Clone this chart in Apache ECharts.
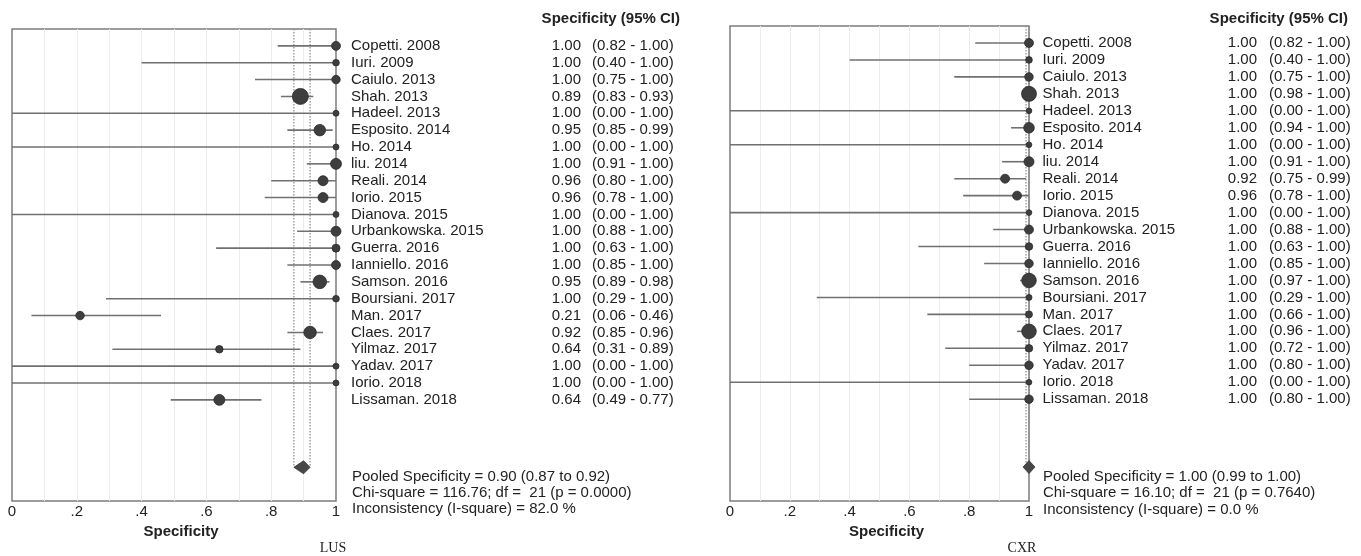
<!DOCTYPE html>
<html><head><meta charset="utf-8">
<script src="https://cdn.jsdelivr.net/npm/echarts@6/dist/echarts.min.js"></script>
<style>html,body{margin:0;padding:0;background:#fff}#c{width:1361px;height:556px}</style>
</head><body><div id="c"></div>
<script>
// ---------------- DATA ----------------
const studies = ['Copetti. 2008','Iuri. 2009','Caiulo. 2013','Shah. 2013','Hadeel. 2013','Esposito. 2014','Ho. 2014','liu. 2014','Reali. 2014','Iorio. 2015','Dianova. 2015','Urbankowska. 2015','Guerra. 2016','Ianniello. 2016','Samson. 2016','Boursiani. 2017','Man. 2017','Claes. 2017','Yilmaz. 2017','Yadav. 2017','Iorio. 2018','Lissaman. 2018'];

const lusEst = [1.00,1.00,1.00,0.89,1.00,0.95,1.00,1.00,0.96,0.96,1.00,1.00,1.00,1.00,0.95,1.00,0.21,0.92,0.64,1.00,1.00,0.64];
const lusLo  = [0.82,0.40,0.75,0.83,0.00,0.85,0.00,0.91,0.80,0.78,0.00,0.88,0.63,0.85,0.89,0.29,0.06,0.85,0.31,0.00,0.00,0.49];
const lusHi  = [1.00,1.00,1.00,0.93,1.00,0.99,1.00,1.00,1.00,1.00,1.00,1.00,1.00,1.00,0.98,1.00,0.46,0.96,0.89,1.00,1.00,0.77];
const lusWeight = [20,11,18,64,9,33,9,30,25,25,9,25,16,20,46,11,18,39,14,9,9,30];
const lusPooled = [0.90,0.87,0.92];
const lusHet = [116.76,21,0.0000,82.0];

const cxrEst = [1.00,1.00,1.00,1.00,1.00,1.00,1.00,1.00,0.92,0.96,1.00,1.00,1.00,1.00,1.00,1.00,1.00,1.00,1.00,1.00,1.00,1.00];
const cxrLo  = [0.82,0.40,0.75,0.98,0.00,0.94,0.00,0.91,0.75,0.78,0.00,0.88,0.63,0.85,0.97,0.29,0.66,0.96,0.72,0.80,0.00,0.80];
const cxrHi  = [1.00,1.00,1.00,1.00,1.00,1.00,1.00,1.00,0.99,1.00,1.00,1.00,1.00,1.00,1.00,1.00,1.00,1.00,1.00,1.00,1.00,1.00];
const cxrWeight = [20,11,18,56,8,28,8,25,20,20,8,20,14,18,53,9,12,53,14,18,8,18];
const cxrPooled = [1.00,0.99,1.00];
const cxrHet = [16.10,21,0.7640,0.0];

const xTicks = [0,0.2,0.4,0.6,0.8,1];
const xTickLabels = ['0','.2','.4','.6','.8','1'];
const panelTitles = ['LUS','CXR'];
const headerText = 'Specificity (95% CI)';
const axisTitle = 'Specificity';

// ---------------- LAYOUT ----------------
const FONT_FAMILY = '"Liberation Sans", Arial, sans-serif';
const TXT = '#222';
const POOLED_ROW = 25;
const panels = [
  {grid:{left:12, top:29, width:324, height:472}, est:lusEst, lo:lusLo, hi:lusHi, w:lusWeight, pooled:lusPooled, het:lusHet,
   nameX:15, valX:245, ciX:256, headerX:680, textX:352, textY:[477,492.5,509], titleX:333},
  {grid:{left:730, top:26, width:299, height:475}, est:cxrEst, lo:cxrLo, hi:cxrHi, w:cxrWeight, pooled:cxrPooled, het:cxrHet,
   nameX:13.5, valX:228, ciX:240, headerX:1348, textX:1043, textY:[477,493,510], titleX:1022}
];

const grids = [], xAxes = [], yAxes = [], series = [], graphics = [];
panels.forEach((P, k) => {
  grids.push(Object.assign({show:true, borderColor:'#7c7c7c', borderWidth:1.5, backgroundColor:'#fff'}, P.grid));
  xAxes.push({
    gridIndex:k, type:'value', min:0, max:1, interval:0.2,
    axisLine:{show:false}, axisTick:{show:false},
    axisLabel:{margin:3, fontSize:15, color:TXT, fontFamily:FONT_FAMILY,
      formatter:v => { const j = xTicks.findIndex(t => Math.abs(t - v) < 1e-6); return j >= 0 ? xTickLabels[j] : ''; }},
    splitLine:{show:true, showMinLine:false, showMaxLine:false, lineStyle:{color:'#ececec', width:1}},
    minorTick:{show:false, splitNumber:2},
    minorSplitLine:{show:true, lineStyle:{color:'#ececec', width:1}},
    name:axisTitle, nameLocation:'middle', nameGap:18,
    nameTextStyle:{fontWeight:'bold', fontSize:15, color:TXT, fontFamily:FONT_FAMILY, padding:[0,0,0,14]}
  });
  yAxes.push({gridIndex:k, type:'value', min:-1, max:27, inverse:true, show:false});

  // pooled CI dotted verticals
  series.push({
    type:'custom', xAxisIndex:k, yAxisIndex:k, silent:true, z:1,
    data:[[P.pooled[1], P.pooled[2], POOLED_ROW]],
    encode:{x:[0,1], y:2},
    renderItem:(params, api) => {
      const top = params.coordSys.y;
      const a = api.coord([api.value(0), api.value(2)]);
      const b = api.coord([api.value(1), api.value(2)]);
      const st = {stroke:'#8a8a8a', lineWidth:1.2, lineDash:[1.5,1.5]};
      return {type:'group', children:[
        {type:'line', shape:{x1:a[0], y1:top, x2:a[0], y2:a[1]}, style:st},
        {type:'line', shape:{x1:b[0], y1:top, x2:b[0], y2:b[1]}, style:st}
      ]};
    }
  });
  // CI lines
  series.push({
    type:'custom', xAxisIndex:k, yAxisIndex:k, silent:true, z:2,
    data:studies.map((_, i) => [P.lo[i], P.hi[i], i]),
    encode:{x:[0,1], y:2},
    renderItem:(params, api) => {
      const a = api.coord([api.value(0), api.value(2)]);
      const b = api.coord([api.value(1), api.value(2)]);
      return {type:'line', shape:{x1:a[0], y1:a[1], x2:b[0], y2:b[1]}, style:{stroke:'#707070', lineWidth:1.6}};
    }
  });
  // study point estimates
  series.push({
    type:'scatter', xAxisIndex:k, yAxisIndex:k, silent:true, z:3,
    data:studies.map((_, i) => [P.est[i], i, P.w[i]]),
    symbol:'circle',
    symbolSize:v => 2 * Math.sqrt(v[2]),
    itemStyle:{color:'#3e3e3e', borderColor:'#2a2a2a', borderWidth:0.8, opacity:1}
  });
  // pooled diamond
  series.push({
    type:'custom', xAxisIndex:k, yAxisIndex:k, silent:true, z:4,
    data:[[P.pooled[0], P.pooled[1], P.pooled[2], POOLED_ROW]],
    encode:{x:[0,1,2], y:3},
    renderItem:(params, api) => {
      const c = api.coord([api.value(0), api.value(3)]);
      const l = api.coord([api.value(1), api.value(3)]);
      const r = api.coord([api.value(2), api.value(3)]);
      const hl = Math.max(c[0] - l[0], 6), hr = Math.max(r[0] - c[0], 6), hh = 6.5;
      return {type:'polygon', shape:{points:[[c[0]-hl, c[1]], [c[0], c[1]-hh], [c[0]+hr, c[1]], [c[0], c[1]+hh]]},
        style:{fill:'#474747', stroke:'#333', lineWidth:0.8}};
    }
  });
  // study text columns
  series.push({
    type:'custom', xAxisIndex:k, yAxisIndex:k, silent:true, z:5,
    data:studies.map((_, i) => [1, i]),
    encode:{x:0, y:1},
    renderItem:(params, api) => {
      const i = api.value(1);
      const p = api.coord([1, i]);
      const base = {fill:TXT, fontSize:15, fontFamily:FONT_FAMILY, verticalAlign:'middle'};
      return {type:'group', children:[
        {type:'text', x:p[0] + P.nameX, y:p[1], style:Object.assign({text:studies[i], align:'left'}, base)},
        {type:'text', x:p[0] + P.valX, y:p[1], style:Object.assign({text:P.est[i].toFixed(2), align:'right'}, base)},
        {type:'text', x:p[0] + P.ciX, y:p[1], style:Object.assign({text:'(' + P.lo[i].toFixed(2) + ' - ' + P.hi[i].toFixed(2) + ')', align:'left'}, base)}
      ]};
    }
  });

  // header, summary text, panel title
  const tstyle = {fill:TXT, fontSize:15, fontFamily:FONT_FAMILY, verticalAlign:'middle'};
  graphics.push({type:'text', x:P.headerX, y:19, style:Object.assign({text:headerText, align:'right', fontWeight:'bold'}, tstyle)});
  const lines = [
    'Pooled Specificity = ' + P.pooled[0].toFixed(2) + ' (' + P.pooled[1].toFixed(2) + ' to ' + P.pooled[2].toFixed(2) + ')',
    'Chi-square = ' + P.het[0].toFixed(2) + '; df =  ' + P.het[1] + ' (p = ' + P.het[2].toFixed(4) + ')',
    'Inconsistency (I-square) = ' + P.het[3].toFixed(1) + ' %'
  ];
  lines.forEach((t, j) => graphics.push({type:'text', x:P.textX, y:P.textY[j], style:Object.assign({text:t, align:'left'}, tstyle)}));
  graphics.push({type:'text', x:P.titleX, y:548, style:{text:panelTitles[k], align:'center', verticalAlign:'middle', fill:TXT, fontSize:14, fontFamily:'"Liberation Serif", "Times New Roman", serif'}});
});

const chart = echarts.init(document.getElementById('c'), null, {renderer:'canvas'});
chart.setOption({
  animation:false,
  backgroundColor:'#fff',
  grid:grids, xAxis:xAxes, yAxis:yAxes, series:series, graphic:graphics
});
</script>
</body></html>
